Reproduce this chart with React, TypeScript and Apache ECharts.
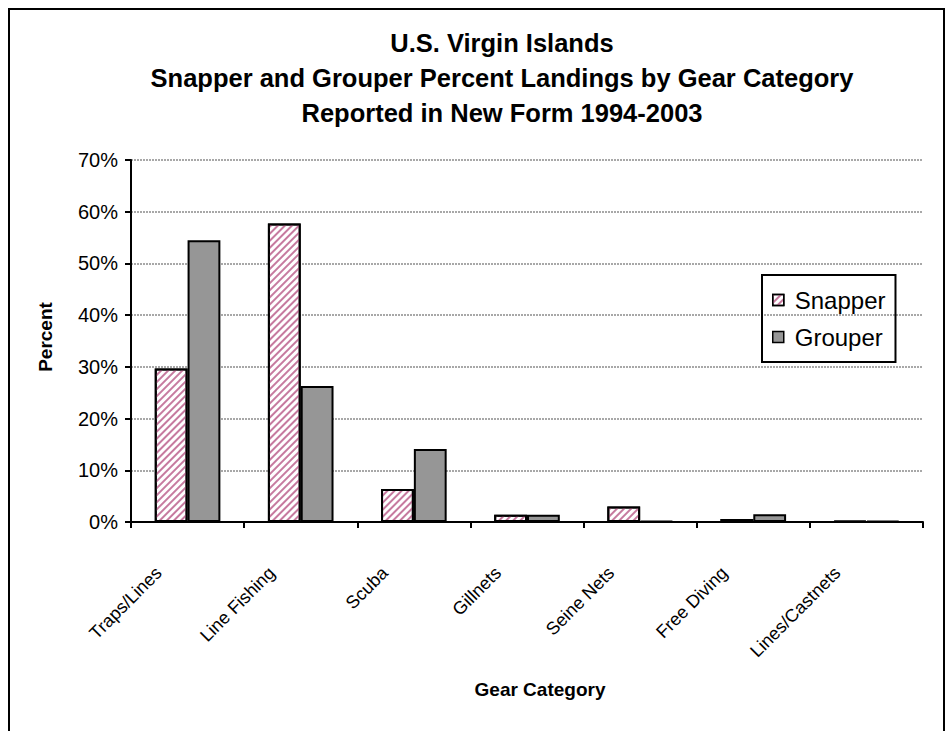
import React, { useEffect, useRef } from "react";
import * as echarts from "echarts";

const categories = ["Traps/Lines", "Line Fishing", "Scuba", "Gillnets", "Seine Nets", "Free Diving", "Lines/Castnets"];
const snapper = [29.7, 57.7, 6.4, 1.4, 3.0, 0.6, 0.2];
const grouper = [54.5, 26.3, 14.1, 1.4, 0.2, 1.5, 0.2];
const titleLines = [
  "U.S. Virgin Islands",
  "Snapper and Grouper Percent Landings by Gear Category",
  "Reported in New Form 1994-2003",
];
const yAxisTitle = "Percent";
const xAxisTitle = "Gear Category";
const seriesNames = ["Snapper", "Grouper"];

const FONT = "Arial, 'Liberation Sans', sans-serif";
const PINK = "#c67a9f";

export default function App() {
  const ref = useRef<HTMLDivElement>(null);
  useEffect(() => {
    if (!ref.current) return;
    const chart = echarts.init(ref.current, undefined, { renderer: "svg" });
    const option: any = {
      animation: false,
      backgroundColor: "#ffffff",
      textStyle: { fontFamily: FONT },
      grid: { left: 131, right: 29, top: 160, bottom: 209, containLabel: false },
      legend: {
        data: seriesNames,
        orient: "vertical",
        left: 762,
        top: 275,
        padding: [13, 10, 13, 10],
        borderColor: "#000",
        borderWidth: 2,
        itemWidth: 11,
        itemHeight: 11,
        itemGap: 13,
        icon: "rect",
        itemStyle: { borderColor: "#000", borderWidth: 1.5 },
        textStyle: { fontSize: 24, color: "#000", fontFamily: FONT, padding: [0, 0, 0, 6] },
      },
      xAxis: {
        type: "category",
        data: categories,
        axisLine: { lineStyle: { color: "#000", width: 2 } },
        axisTick: { show: true, length: 6, lineStyle: { color: "#000", width: 2 } },
        axisLabel: {
          rotate: 45,
          interval: 0,
          fontSize: 18,
          color: "#000",
          fontFamily: FONT,
          margin: 19,
          padding: [0, 41, 0, 0],
        },
      },
      yAxis: {
        type: "value",
        min: 0,
        max: 70,
        interval: 10,
        axisLine: { show: true, lineStyle: { color: "#000", width: 2 } },
        axisTick: { show: true, length: 6, lineStyle: { color: "#000", width: 2 } },
        axisLabel: { formatter: "{value}%", fontSize: 20, color: "#000", fontFamily: FONT, margin: 13 },
        splitLine: { show: true, lineStyle: { color: "#8c8c8c", width: 1.5, type: [2, 1] } },
      },
      series: [
        {
          name: seriesNames[0],
          type: "bar",
          data: snapper,
          barGap: "0%",
          barCategoryGap: "42%",
          itemStyle: {
            color: "#ffffff",
            borderColor: "#000",
            borderWidth: 2,
            decal: {
              symbol: "rect",
              symbolSize: 1,
              dashArrayX: [1, 0],
              dashArrayY: [2, 2.5],
              rotation: -Math.PI / 4,
              color: PINK,
            },
          },
        },
        {
          name: seriesNames[1],
          type: "bar",
          data: grouper,
          barGap: "0%",
          barCategoryGap: "42%",
          itemStyle: { color: "#969696", borderColor: "#000", borderWidth: 2 },
        },
      ],
      graphic: [
        {
          type: "rect",
          silent: true,
          z: -10,
          shape: { x: 9, y: 9, width: 935, height: 800 },
          style: { fill: "none", stroke: "#000", lineWidth: 2 },
        },
        ...titleLines.map((t, i) => ({
          type: "text",
          x: 502,
          y: 43 + i * 35,
          silent: true,
          style: {
            text: t,
            fill: "#000",
            font: `bold 25.5px ${FONT}`,
            textAlign: "center",
            textVerticalAlign: "middle",
          },
        })),
        {
          type: "text",
          x: 45,
          y: 337,
          rotation: Math.PI / 2,
          silent: true,
          style: {
            text: yAxisTitle,
            fill: "#000",
            font: `bold 19px ${FONT}`,
            textAlign: "center",
            textVerticalAlign: "middle",
          },
        },
        {
          type: "text",
          x: 540,
          y: 689,
          silent: true,
          style: {
            text: xAxisTitle,
            fill: "#000",
            font: `bold 19px ${FONT}`,
            textAlign: "center",
            textVerticalAlign: "middle",
          },
        },
      ],
    };
    chart.setOption(option);
    return () => chart.dispose();
  }, []);
  return (
    <div
      ref={ref}
      style={{ position: "absolute", left: 0, top: 0, width: 952, height: 731, background: "#fff" }}
    />
  );
}
